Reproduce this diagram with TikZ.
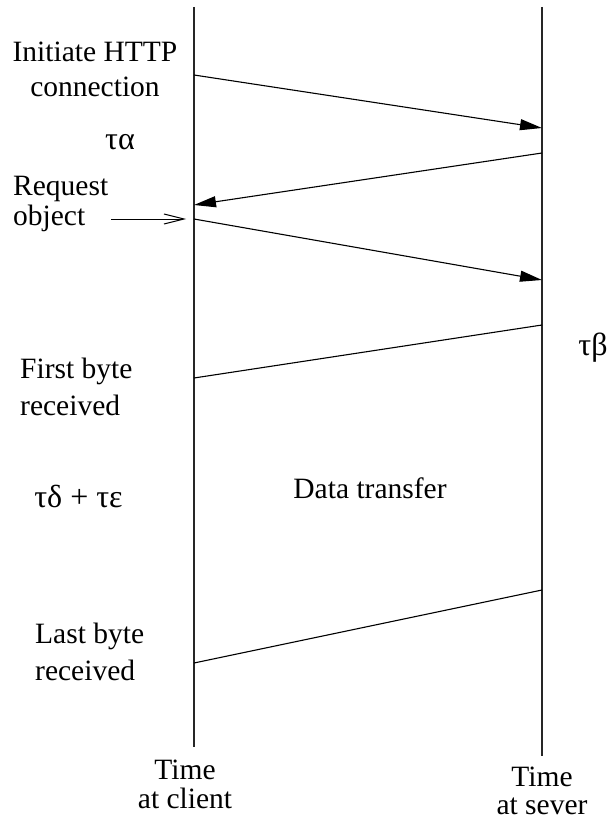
\documentclass[tikz,border=0pt]{standalone}
\usepackage{fontspec}
\setmainfont{Liberation Serif}
\usetikzlibrary{arrows.meta}

\tikzset{
  lifeline/.style={line width=1.2pt, black!85},
  msg/.style={line width=1.1pt},
  msgarrow/.style={msg, -{Triangle[length=22pt,width=11pt]}},
  pointer/.style={line width=1pt, -{Straight Barb[length=20pt,width=10pt]}},
  lbl/.style={inner sep=0pt, font=\fontsize{29.5}{35}\selectfont},
  greek/.style={inner sep=0pt, font=\fontsize{32}{36}\selectfont},
}

\begin{document}
\begin{tikzpicture}[x=1pt, y=-1pt]
  \useasboundingbox (0,0) rectangle (612,821);

  % lifelines of client and server
  \coordinate (ctop) at (194,7);
  \coordinate (cbot) at (194,747);
  \coordinate (stop) at (542,7);
  \coordinate (sbot) at (542,756);
  \draw[lifeline] (ctop) -- (cbot);
  \draw[lifeline] (stop) -- (sbot);

  % message end points
  \coordinate (c1) at (194,75);
  \coordinate (s1) at (542,128);
  \coordinate (s2) at (542,153);
  \coordinate (c2) at (194,205);
  \coordinate (c3) at (194,219);
  \coordinate (s3) at (542,280);
  \coordinate (s4) at (542,325);
  \coordinate (c4) at (194,378);
  \coordinate (s5) at (542,590);
  \coordinate (c5) at (194,663);

  \draw[msgarrow] (c1) -- (s1);
  \draw[msgarrow] (s2) -- (c2);
  \draw[msgarrow] (c3) -- (s3);
  \draw[msg] (s4) -- (c4);
  \draw[msg] (s5) -- (c5);

  % labels (base anchor sits on the last line's baseline)
  \node[lbl, anchor=base, align=center] (init) at (95,97) {Initiate HTTP\\connection};
  \node[greek, anchor=base] (ta) at (120,150) {τα};
  \node[lbl, anchor=base west, align=left,
        font=\fontsize{29.5}{30}\selectfont] (req) at (13,225) {Request\\object};
  \coordinate (reqtail) at (111,219);
  \coordinate (reqtip) at (186,219);
  \draw[pointer] (reqtail) -- (reqtip);

  \node[lbl, anchor=base west, align=left,
        font=\fontsize{29.5}{37}\selectfont] (first) at (20,415) {First byte\\received};
  \node[greek, anchor=base] (tb) at (593,355) {τβ};
  \node[greek, anchor=base] (tde) at (78.5,507) {τδ + τε};
  \node[lbl, anchor=base] (data) at (370,498) {Data transfer};
  \node[lbl, anchor=base west, align=left,
        font=\fontsize{29.5}{37}\selectfont] (last) at (35,680) {Last byte\\received};

  \node[lbl, anchor=base, align=center,
        font=\fontsize{29.5}{29}\selectfont] (tclient) at (185,808) {Time\\at client};
  \node[lbl, anchor=base, align=center,
        font=\fontsize{29.5}{27.5}\selectfont] (tserver) at (542,814) {Time\\at sever};
\end{tikzpicture}
\end{document}
